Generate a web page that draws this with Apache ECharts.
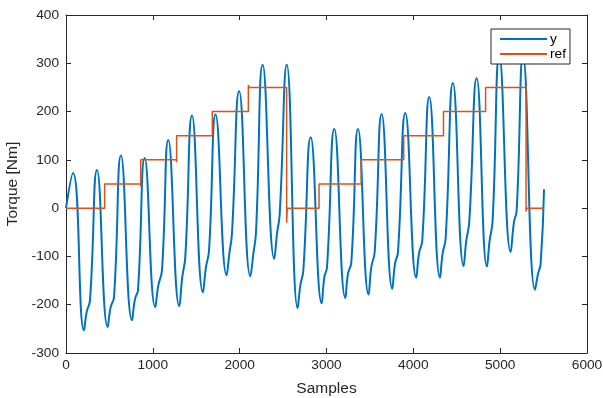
<!DOCTYPE html>
<html>
<head>
<meta charset="utf-8">
<script src="https://cdn.jsdelivr.net/npm/echarts@6/dist/echarts.min.js"></script>
<style>
html,body{margin:0;padding:0;background:#fff;}
#chart{width:603px;height:398px;}
</style>
</head>
<body>
<div id="chart"></div>
<script>
// Measured output y (key points of the waveform)
var ySamples = [0, 81, 207, 238, 276, 357, 480, 514, 553, 633, 760, 795, 829, 906,
  1028, 1063, 1105, 1178, 1305, 1339, 1374, 1451, 1577, 1612, 1647, 1723, 1850, 1881, 1911, 1994,
  2123, 2158, 2188, 2265, 2399, 2430, 2461, 2542, 2668, 2699, 2733, 2818, 2945, 2975, 3006, 3090,
  3217, 3247, 3286, 3363, 3485, 3516, 3555, 3635, 3758, 3789, 3823, 3908, 4034, 4065, 4103, 4184,
  4307, 4337, 4372, 4456, 4579, 4610, 4644, 4729, 4848, 4879, 4913, 4990, 5121, 5159, 5190, 5263,
  5401, 5436, 5466, 5505];
var yValues = [0, 73, -253, -215, -191, 79, -246, -205, -184, 109, -232, -188, -170, 104,
  -205, -160, -129, 141, -203, -143, -101, 192, -174, -122, -88, 194, -139, -94, -53, 242,
  -141, -94, -50, 297, -105, -53, -12, 297, -207, -160, -129, 147, -197, -143, -122, 164,
  -186, -136, -112, 164, -179, -122, -91, 195, -167, -115, -91, 197, -144, -94, -67, 230,
  -144, -94, -63, 259, -120, -67, -29, 269, -121, -67, -26, 315, -91, -29, -5, 315,
  -169, -136, -115, 39];

// Reference (step signal)
var refSamples = [0, 445, 445, 858, 860, 860, 1272, 1274, 1274, 1685, 1685, 2100, 2100, 2110, 2541, 2541, 2548, 2914, 2914,
  3399, 3399, 3889, 3889, 4347, 4347, 4832, 4832, 5298, 5298, 5305, 5505];
var refValues = [0, 0, 50, 50, 45, 100, 100, 95, 150, 150, 200, 200, 255, 250, 250, -30, 0, 0, 50,
  50, 100, 100, 150, 150, 200, 200, 250, 250, -7, 0, 0];

var xTicks = [0, 1000, 2000, 3000, 4000, 5000, 6000];
var yTicks = [-300, -200, -100, 0, 100, 200, 300, 400];

var yData = ySamples.map(function (s, i) { return [s, yValues[i]]; });
var refData = refSamples.map(function (s, i) { return [s, refValues[i]]; });

var axisColor = '#262626';
var fontFam = 'Liberation Sans, Arial, Helvetica, sans-serif';
var plain = function (v) { return String(v); };

var chart = echarts.init(document.getElementById('chart'), null, {renderer: 'canvas'});

function baseAxis(extra) {
  var a = {
    type: 'value',
    axisLine: {show: true, onZero: false, lineStyle: {color: axisColor, width: 1}},
    axisTick: {show: true, inside: true, length: 5, lineStyle: {color: axisColor}},
    splitLine: {show: false},
    axisLabel: {color: axisColor, fontSize: 13.7, fontFamily: fontFam, formatter: plain}
  };
  for (var k in extra) a[k] = extra[k];
  return a;
}

chart.setOption({
  animation: false,
  backgroundColor: '#ffffff',
  grid: {left: 66, right: 16, top: 15, bottom: 45, containLabel: false, outerBoundsMode: 'none'},
  xAxis: [
    baseAxis({min: xTicks[0], max: xTicks[xTicks.length - 1], interval: 1000, position: 'bottom',
      name: 'Samples', nameLocation: 'middle', nameGap: 28,
      nameTextStyle: {color: axisColor, fontSize: 15.5, fontFamily: fontFam},
      axisLabel: {color: axisColor, fontSize: 13.7, fontFamily: fontFam, margin: 5, formatter: plain}}),
    baseAxis({min: xTicks[0], max: xTicks[xTicks.length - 1], interval: 1000, position: 'top',
      axisLabel: {show: false}})
  ],
  yAxis: [
    baseAxis({min: yTicks[0], max: yTicks[yTicks.length - 1], interval: 100, position: 'left',
      name: 'Torque [Nm]', nameLocation: 'middle', nameGap: 40, nameRotate: 90,
      nameTextStyle: {color: axisColor, fontSize: 15.5, fontFamily: fontFam},
      axisLabel: {color: axisColor, fontSize: 13.7, fontFamily: fontFam, margin: 7, formatter: plain}}),
    baseAxis({min: yTicks[0], max: yTicks[yTicks.length - 1], interval: 100, position: 'right',
      axisLabel: {show: false}})
  ],
  legend: {
    orient: 'vertical',
    left: 491, top: 29,
    padding: [3, 4, 3, 9],
    itemGap: 1,
    itemWidth: 47, itemHeight: 2,
    icon: 'rect',
    backgroundColor: '#ffffff',
    borderColor: axisColor, borderWidth: 1, borderRadius: 0,
    textStyle: {color: '#000', fontSize: 13.7, fontFamily: fontFam, padding: [0, 0, 0, -2]},
    data: ['y', 'ref']
  },
  series: [
    {
      name: 'y', type: 'line', data: yData, smooth: 0.5, showSymbol: false,
      lineStyle: {color: '#0072BD', width: 2}, itemStyle: {color: '#0072BD'}
    },
    {
      name: 'ref', type: 'line', data: refData, smooth: false, showSymbol: false,
      lineStyle: {color: '#D95319', width: 1.5}, itemStyle: {color: '#D95319'}
    }
  ]
});
</script>
</body>
</html>
